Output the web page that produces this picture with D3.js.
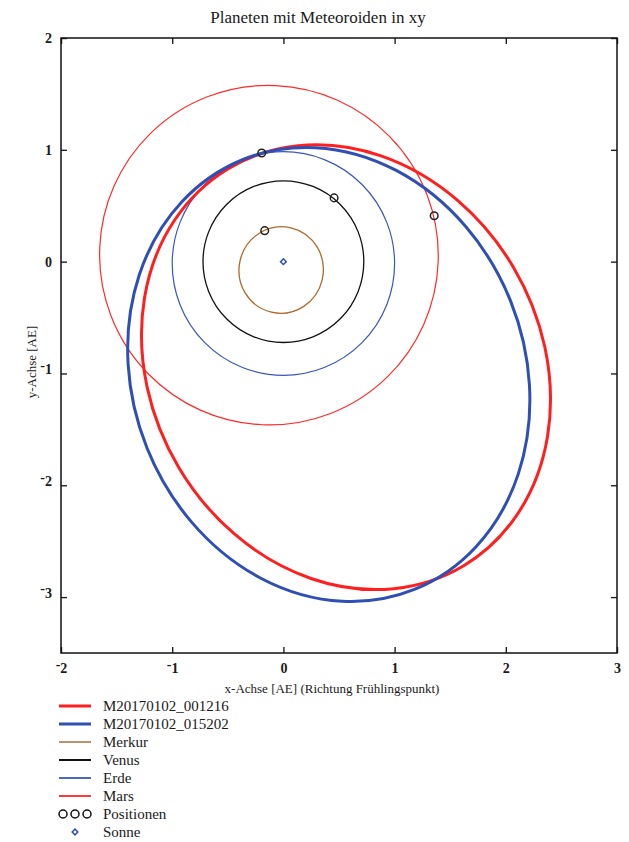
<!DOCTYPE html>
<meta charset="utf-8">
<style>
body { margin: 0; background: #fff; }
text { font-family: "Liberation Serif", "DejaVu Serif", serif; fill: #1a1a1a; }
.frame { fill: none; stroke: #111; stroke-width: 1.5px; }
</style>
<svg width="629" height="842"></svg>
<script src="https://d3js.org/d3.v7.min.js"></script>
<script>
// orbits: centre, semi-axes [AE], rotation of major axis [deg]
var orbitNames  = ["Mars", "Erde", "Venus", "Merkur", "M20170102_001216", "M20170102_015202"];
var orbitCx     = [-0.13, 0.0, 0.0, -0.02, 0.563, 0.408];
var orbitCy     = [0.058, -0.017, 0.0, -0.075, -0.944, -1.009];
var orbitA      = [1.524, 1.0, 0.723, 0.387, 2.067, 2.071];
var orbitB      = [1.517, 1.0, 0.723, 0.379, 1.751, 1.762];
var orbitAngle  = [336, 0, 0, 77, -59.2, -68.0];
var orbitColor  = ["#ff2a2a", "#3a56c0", "#111111", "#b06a2c", "#ff1f1f", "#2e4fb5"];
var orbitWidth  = [1.2, 1.2, 1.3, 1.3, 3, 3];

// current planet positions
var posName = ["Merkur", "Venus", "Erde", "Mars"];
var posX = [-0.168, 0.456, -0.195, 1.356];
var posY = [0.277, 0.570, 0.972, 0.411];

var xTicks = [-2, -1, 0, 1, 2, 3];
var yTicks = [-3, -2, -1, 0, 1, 2];

var legendLabels = ["M20170102_001216", "M20170102_015202", "Merkur", "Venus", "Erde", "Mars", "Positionen", "Sonne"];
var legendColors = ["#ff1f1f", "#2e4fb5", "#c0926a", "#111111", "#4a68c8", "#ff3a3a", "#111111", "#2e4fb5"];
var legendWidths = [3, 3, 2, 2, 2, 2, 0, 0];

var svg = d3.select("svg"),
    margin = {top: 38, left: 61, right: 12, bottom: 189},
    width = 629 - margin.left - margin.right,
    height = 842 - margin.top - margin.bottom;

var x = d3.scaleLinear().domain([-2, 3]).range([0, width]);
var y = d3.scaleLinear().domain([-3.5, 2]).range([height, 0]);

var g = svg.append("g").attr("transform", "translate(" + margin.left + "," + margin.top + ")");

// axes with inward ticks
var xb = g.append("g").attr("transform", "translate(0," + height + ")")
  .call(d3.axisBottom(x).tickValues(xTicks).tickSizeInner(-6).tickSizeOuter(0).tickFormat(""));
g.append("g").call(d3.axisTop(x).tickValues(xTicks).tickSizeInner(-6).tickSizeOuter(0).tickFormat(""));
var yl = g.append("g").call(d3.axisLeft(y).tickValues(yTicks).tickSizeInner(-6).tickSizeOuter(0).tickFormat(""));
g.append("g").attr("transform", "translate(" + width + ",0)")
  .call(d3.axisRight(y).tickValues(yTicks).tickSizeInner(-6).tickSizeOuter(0).tickFormat(""));
g.selectAll(".domain").remove();
g.selectAll(".tick line").attr("stroke", "#222").attr("stroke-width", 1.4);

// tick labels (minus raised, as in the original)
xb.selectAll(".tick").append("text")
  .attr("y", 20).attr("text-anchor", "middle").attr("font-size", 14).attr("font-weight", "bold")
  .each(function(d) { labelText(d3.select(this), d); });
yl.selectAll(".tick").append("text")
  .attr("x", -9).attr("dy", "0.33em").attr("text-anchor", "end").attr("font-size", 14).attr("font-weight", "bold")
  .each(function(d) { labelText(d3.select(this), d); });

function labelText(t, d) {
  if (d < 0) {
    t.append("tspan").attr("dy", "-0.3em").text("-");
    t.append("tspan").attr("dy", "0.3em").text(Math.abs(d));
  } else t.text(d);
}

g.append("rect").attr("class", "frame").attr("width", width).attr("height", height);

// orbits drawn as ellipses in data coordinates
var kx = x(1) - x(0), ky = y(0) - y(1);
var orbits = orbitNames.map(function(n, i) {
  return {name: n, cx: orbitCx[i], cy: orbitCy[i], a: orbitA[i], b: orbitB[i], ang: orbitAngle[i], color: orbitColor[i], w: orbitWidth[i]};
});
g.selectAll(".orbit").data(orbits).enter().append("ellipse")
  .attr("class", "orbit")
  .attr("transform", function(d) {
    return "translate(" + x(d.cx) + "," + y(d.cy) + ") scale(" + kx + "," + (-ky) + ") rotate(" + d.ang + ")";
  })
  .attr("rx", function(d) { return d.a; })
  .attr("ry", function(d) { return d.b; })
  .attr("fill", "none")
  .attr("stroke", function(d) { return d.color; })
  .attr("stroke-width", function(d) { return d.w; })
  .attr("vector-effect", "non-scaling-stroke");

// positions
g.selectAll(".pos").data(posName).enter().append("circle")
  .attr("cx", function(d, i) { return x(posX[i]); })
  .attr("cy", function(d, i) { return y(posY[i]); })
  .attr("r", 3.8).attr("fill", "none").attr("stroke", "#222").attr("stroke-width", 1.5);

// sun: small square turned 45 degrees
var sunSym = d3.symbol(d3.symbolSquare, 16)();
g.append("path").attr("d", sunSym)
  .attr("transform", "translate(" + x(0) + "," + y(0) + ") rotate(45)")
  .attr("fill", "none").attr("stroke", "#2e4fb5").attr("stroke-width", 1.5);

// titles
svg.append("text").attr("x", 318).attr("y", 23).attr("text-anchor", "middle").attr("font-size", 17)
  .text("Planeten mit Meteoroiden in xy");
svg.append("text").attr("x", 332).attr("y", 693).attr("text-anchor", "middle").attr("font-size", 13)
  .text("x-Achse [AE] (Richtung Frühlingspunkt)");
svg.append("text").attr("transform", "translate(36,362) rotate(-90)").attr("text-anchor", "middle").attr("font-size", 13)
  .text("y-Achse [AE]");

// legend
var leg = svg.append("g").attr("transform", "translate(59,706)");
var row = leg.selectAll(".lr").data(legendLabels).enter().append("g")
  .attr("transform", function(d, i) { return "translate(0," + (i * 18) + ")"; });
row.filter(function(d, i) { return legendWidths[i] > 0; }).append("line")
  .attr("x1", 0).attr("x2", 32)
  .attr("stroke", function(d) { return legendColors[legendLabels.indexOf(d)]; })
  .attr("stroke-width", function(d) { return legendWidths[legendLabels.indexOf(d)]; });
row.append("text").attr("x", 44).attr("dy", "0.35em").attr("font-size", 15).text(function(d) { return d; });
row.filter(function(d) { return d === "Positionen"; })
  .selectAll("circle").data([4, 16, 28]).enter().append("circle")
  .attr("cx", function(d) { return d; }).attr("r", 4)
  .attr("fill", "none").attr("stroke", "#111").attr("stroke-width", 1.5);
row.filter(function(d) { return d === "Sonne"; }).append("path")
  .attr("d", sunSym).attr("transform", "translate(16,0) rotate(45)")
  .attr("fill", "none").attr("stroke", "#2e4fb5").attr("stroke-width", 1.5);
</script>
